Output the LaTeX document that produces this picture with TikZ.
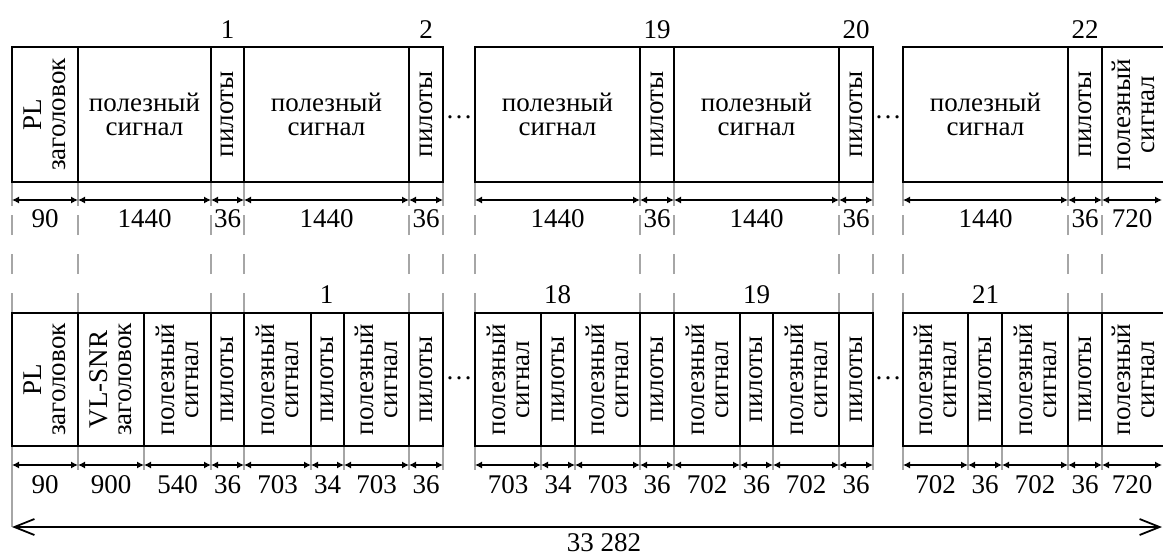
\documentclass[tikz,border=0pt]{standalone}
\usepackage{fontspec}
\setmainfont{Liberation Serif}
\usetikzlibrary{arrows.meta}
\newcommand\mycell[7]{%
  \node[box, minimum width={(#3)-(#2)}, minimum height={#5}] (#1) at ({((#2)+(#3))/2},#4) {};
  \node[#6] (#1t) at (#1.center) {#7};}
\newcommand\myopen[7]{%
  \node[obox, minimum width={(#3)-(#2)}, minimum height={#5}] (#1) at ({((#2)+(#3))/2},#4) {};
  \node[#6] (#1t) at (#1.center) {#7};
  \draw[edge] (#1.north west) -- (#1.north east);
  \draw[edge] (#1.south west) -- (#1.south east);}
\tikzset{
  box/.style={draw, line width=1.6pt, inner sep=0pt, outer sep=0pt},
  obox/.style={inner sep=0pt, outer sep=0pt},
  edge/.style={line width=1.6pt},
  txt/.style={font=\fontsize{27}{24}\selectfont, align=center, inner sep=0pt},
  vtxt/.style={txt, rotate=90},
  num/.style={font=\fontsize{27}{24}\selectfont, inner sep=0pt},
  dim/.style={line width=1.2pt, {Latex[length=7pt,width=7pt]}-{Latex[length=7pt,width=7pt]}},
  ext/.style={line width=1.1pt, black!35},
  dext/.style={ext, dash pattern=on 20pt off 19pt},
  big/.style={line width=1.8pt, {Straight Barb[length=20pt,width=16pt]}-{Straight Barb[length=20pt,width=16pt]}},
}
\begin{document}
\begin{tikzpicture}[x=1pt,y=-1pt]
\useasboundingbox (0,0) rectangle (1163,558);

% extension lines, top row
\foreach \x in {12,78,211,244,409,443,475,640,674,839,873,903,1068,1102} {
  \draw[ext] (\x,182) -- (\x,206);
  \draw[dext] (\x,313) -- (\x,215);
}
% extension lines, bottom row
\foreach \x in {78,144,211,244,311,344,409,443,475,541,575,640,674,740,773,839,873,903,968,1002,1068,1102} {
  \draw[ext] (\x,446) -- (\x,470);
}
\draw[ext] (12,446) -- (12,527);

% top row
\mycell{t1}{12}{78}{114.5}{135}{vtxt}{PL\\заголовок}
\mycell{t2}{78}{211}{114.5}{135}{txt}{полезный\\сигнал}
\mycell{t3}{211}{244}{114.5}{135}{vtxt}{пилоты}
\mycell{t4}{244}{409}{114.5}{135}{txt}{полезный\\сигнал}
\mycell{t5}{409}{443}{114.5}{135}{vtxt}{пилоты}
\mycell{t6}{475}{640}{114.5}{135}{txt}{полезный\\сигнал}
\mycell{t7}{640}{674}{114.5}{135}{vtxt}{пилоты}
\mycell{t8}{674}{839}{114.5}{135}{txt}{полезный\\сигнал}
\mycell{t9}{839}{873}{114.5}{135}{vtxt}{пилоты}
\mycell{t10}{903}{1068}{114.5}{135}{txt}{полезный\\сигнал}
\mycell{t11}{1068}{1102}{114.5}{135}{vtxt}{пилоты}
\myopen{t12}{1102}{1165}{114.5}{135}{vtxt}{полезный\\сигнал}

% bottom row
\mycell{b1}{12}{78}{379.5}{133}{vtxt}{PL\\заголовок}
\mycell{b2}{78}{144}{379.5}{133}{vtxt}{VL-SNR\\заголовок}
\mycell{b3}{144}{211}{379.5}{133}{vtxt}{полезный\\сигнал}
\mycell{b4}{211}{244}{379.5}{133}{vtxt}{пилоты}
\mycell{b5}{244}{311}{379.5}{133}{vtxt}{полезный\\сигнал}
\mycell{b6}{311}{344}{379.5}{133}{vtxt}{пилоты}
\mycell{b7}{344}{409}{379.5}{133}{vtxt}{полезный\\сигнал}
\mycell{b8}{409}{443}{379.5}{133}{vtxt}{пилоты}
\mycell{b9}{475}{541}{379.5}{133}{vtxt}{полезный\\сигнал}
\mycell{b10}{541}{575}{379.5}{133}{vtxt}{пилоты}
\mycell{b11}{575}{640}{379.5}{133}{vtxt}{полезный\\сигнал}
\mycell{b12}{640}{674}{379.5}{133}{vtxt}{пилоты}
\mycell{b13}{674}{740}{379.5}{133}{vtxt}{полезный\\сигнал}
\mycell{b14}{740}{773}{379.5}{133}{vtxt}{пилоты}
\mycell{b15}{773}{839}{379.5}{133}{vtxt}{полезный\\сигнал}
\mycell{b16}{839}{873}{379.5}{133}{vtxt}{пилоты}
\mycell{b17}{903}{968}{379.5}{133}{vtxt}{полезный\\сигнал}
\mycell{b18}{968}{1002}{379.5}{133}{vtxt}{пилоты}
\mycell{b19}{1002}{1068}{379.5}{133}{vtxt}{полезный\\сигнал}
\mycell{b20}{1068}{1102}{379.5}{133}{vtxt}{пилоты}
\myopen{b21}{1102}{1165}{379.5}{133}{vtxt}{полезный\\сигнал}

% dots
\node[num] (dt1) at (459,117) {…};
\node[num] (dt2) at (888,117) {…};
\node[num] (db1) at (459,378) {…};
\node[num] (db2) at (888,378) {…};

% group numbers
\node[num] (nt1) at (227.5,30) {1};
\node[num] (nt2) at (426,30) {2};
\node[num] (nt19) at (657,30) {19};
\node[num] (nt20) at (856,30) {20};
\node[num] (nt22) at (1085,30) {22};
\node[num] (nb1) at (326.5,295) {1};
\node[num] (nb18) at (557.5,295) {18};
\node[num] (nb19) at (756.5,295) {19};
\node[num] (nb21) at (985.5,295) {21};

% dimensions, top row
\foreach \a/\b/\l in {12/78/90,78/211/1440,211/244/36,244/409/1440,409/443/36,475/640/1440,640/674/36,674/839/1440,839/873/36,903/1068/1440,1068/1102/36,1102/1162/720} {
  \coordinate (ta\a) at (\a,200);
  \coordinate (tb\a) at (\b,200);
  \draw[dim] (ta\a) -- (tb\a);
  \node[num] (tl\a) at ({(\a+\b)/2},219) {\l};
}
% dimensions, bottom row
\foreach \a/\b/\l in {12/78/90,78/144/900,144/211/540,211/244/36,244/311/703,311/344/34,344/409/703,409/443/36,475/541/703,541/575/34,575/640/703,640/674/36,674/740/702,740/773/36,773/839/702,839/873/36,903/968/702,968/1002/36,1002/1068/702,1068/1102/36,1102/1162/720} {
  \coordinate (ba\a) at (\a,465);
  \coordinate (bb\a) at (\b,465);
  \draw[dim] (ba\a) -- (bb\a);
  \node[num] (bl\a) at ({(\a+\b)/2},485) {\l};
}

% total
\coordinate (L) at (12,527);
\coordinate (R) at (1162,527);
\draw[big] (L) -- (R);
\node[num] (tot) at (604,543) {33 282};
\end{tikzpicture}
\end{document}
